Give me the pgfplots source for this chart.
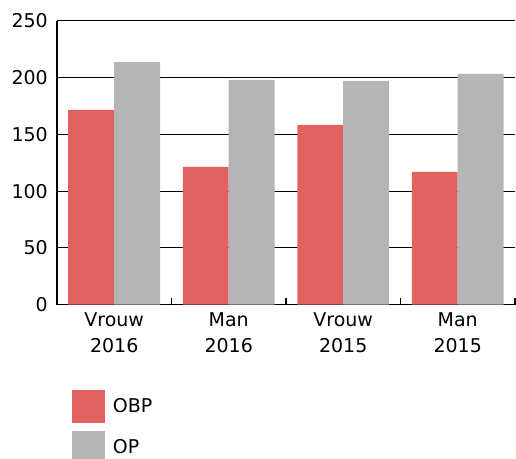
\documentclass[border=0pt]{standalone}
\usepackage{pgfplots}
\pgfplotsset{compat=1.18}
\usepackage{fontspec}
\setmainfont{DejaVu Sans}
\definecolor{obp}{RGB}{225,97,96}
\definecolor{opg}{RGB}{180,181,180}
\begin{document}
\begin{tikzpicture}
\begin{axis}[
  name=ax,
  scale only axis,
  width=458.5bp, height=284.3bp,
  ybar=0pt, bar width=46bp,
  xmin=-0.5, xmax=3.5,
  ymin=0, ymax=250,
  ytick={0,50,...,250},
  axis x line*=bottom,
  axis y line*=left,
  axis line style={black, line width=1.2bp},
  ymajorgrids,
  grid style={black, line width=1bp},
  y tick style={draw=none},
  major tick length=0pt,
  xtick={0,1,2,3},
  xticklabels={{Vrouw\\2016},{Man\\2016},{Vrouw\\2015},{Man\\2015}},
  x tick style={draw=none},
  extra x ticks={0.5,1.5,2.5,3.5},
  extra x tick labels={},
  extra x tick style={grid=none, major tick length=7bp, tick align=inside, x tick style={draw=black, line width=1.2bp}},
  tick label style={font=\fontsize{19bp}{26bp}\selectfont},
  yticklabel style={inner sep=0pt, xshift=-9bp},
  xticklabel style={align=center, inner sep=0pt, yshift=-8bp},
  /pgf/number format/assume math mode=true,
  legend image code/.code={\fill[#1] (0bp,-16.5bp) rectangle (33bp,16.5bp);},
  legend cell align=left,
  legend style={draw=none, fill=none, at={(axis description cs:0.0327,-0.299)}, anchor=north west,
    inner sep=0pt, outer sep=0pt, row sep=8bp, column sep=8bp,
    nodes={inner sep=0pt, font=\fontsize{19bp}{23bp}\selectfont}},
]
\addplot[draw=none, fill=obp] coordinates {(0,171.5) (1,121.3) (2,158.2) (3,117)};
\addplot[draw=none, fill=opg] coordinates {(0,213.6) (1,197.8) (2,197) (3,203.2)};
\legend{OBP,OP}
\end{axis}
\pgfresetboundingbox
\path ([xshift=-57bp,yshift=-154bp]ax.south west) rectangle ([xshift=1bp,yshift=20.7bp]ax.north east);
\end{tikzpicture}
\end{document}
